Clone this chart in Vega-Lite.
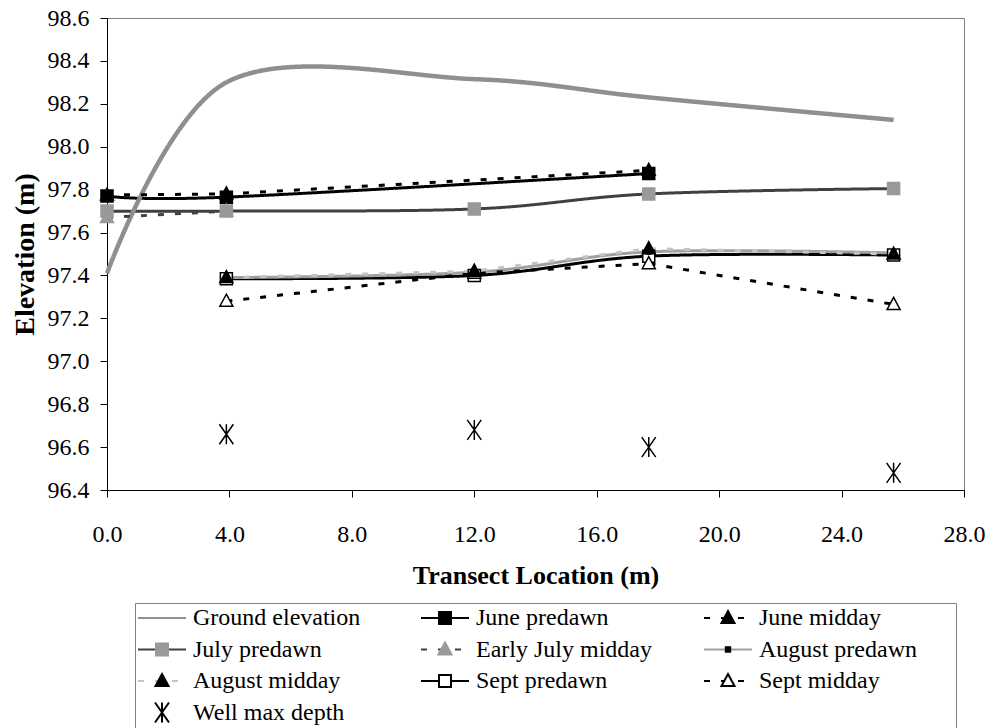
{
  "$schema": "https://vega.github.io/schema/vega-lite/v6.json",
  "width": 857,
  "height": 472,
  "autosize": {"type": "none"},
  "padding": {"left": 107, "top": 18, "right": 27, "bottom": 238},
  "background": "white",
  "config": {
    "view": {"stroke": "#808080", "strokeWidth": 1},
    "font": "Liberation Serif",
    "axis": {
      "labelFont": "Liberation Serif", "labelFontSize": 24, "labelColor": "black",
      "titleFont": "Liberation Serif", "titleFontSize": 26, "titleFontWeight": "bold", "titleColor": "black",
      "domainColor": "black", "domainWidth": 1, "tickColor": "black", "tickSize": 7, "tickWidth": 1,
      "grid": false, "labelFlush": false, "labelOverlap": false
    },
    "legend": {
      "orient": "none", "legendX": 28, "legendY": 585,
      "direction": "horizontal", "columns": 3, "gridAlign": "all",
      "columnPadding": 30, "rowPadding": -0.5, "padding": 3,
      "labelFont": "Liberation Serif", "labelFontSize": 24, "labelColor": "black",
      "labelOffset": 19, "symbolOffset": 12, "symbolSize": 400, "labelLimit": 400,
      "symbolStrokeWidth": 2
    }
  },
  "data": {
    "values": [
      {"series": "Ground elevation", "x": 0, "y": 97.41},
      {"series": "Ground elevation", "x": 3.9, "y": 98.3},
      {"series": "Ground elevation", "x": 12, "y": 98.315},
      {"series": "Ground elevation", "x": 17.7, "y": 98.23},
      {"series": "Ground elevation", "x": 25.7, "y": 98.125},
      {"series": "June predawn", "x": 0, "y": 97.77},
      {"series": "June predawn", "x": 3.9, "y": 97.765},
      {"series": "June predawn", "x": 17.7, "y": 97.875},
      {"series": "June midday", "x": 0, "y": 97.775},
      {"series": "June midday", "x": 3.9, "y": 97.78},
      {"series": "June midday", "x": 17.7, "y": 97.89},
      {"series": "July predawn", "x": 0, "y": 97.7},
      {"series": "July predawn", "x": 3.9, "y": 97.7},
      {"series": "July predawn", "x": 12, "y": 97.71},
      {"series": "July predawn", "x": 17.7, "y": 97.78},
      {"series": "July predawn", "x": 25.7, "y": 97.805},
      {"series": "Early July midday", "x": 0, "y": 97.67},
      {"series": "Early July midday", "x": 3.9, "y": 97.7},
      {"series": "Sept predawn", "x": 3.9, "y": 97.385},
      {"series": "Sept predawn", "x": 12, "y": 97.4},
      {"series": "Sept predawn", "x": 17.7, "y": 97.49},
      {"series": "Sept predawn", "x": 25.7, "y": 97.495},
      {"series": "Sept midday", "x": 3.9, "y": 97.28},
      {"series": "Sept midday", "x": 12, "y": 97.41},
      {"series": "Sept midday", "x": 17.7, "y": 97.455},
      {"series": "Sept midday", "x": 25.7, "y": 97.265},
      {"series": "August predawn", "x": 3.9, "y": 97.39},
      {"series": "August predawn", "x": 12, "y": 97.415},
      {"series": "August predawn", "x": 17.7, "y": 97.51},
      {"series": "August predawn", "x": 25.7, "y": 97.505},
      {"series": "August midday", "x": 3.9, "y": 97.39},
      {"series": "August midday", "x": 12, "y": 97.42},
      {"series": "August midday", "x": 17.7, "y": 97.525},
      {"series": "August midday", "x": 25.7, "y": 97.5},
      {"series": "Well max depth", "x": 3.9, "y": 96.66},
      {"series": "Well max depth", "x": 12, "y": 96.68},
      {"series": "Well max depth", "x": 17.7, "y": 96.6},
      {"series": "Well max depth", "x": 25.7, "y": 96.48}
    ]
  },
  "encoding": {
    "x": {
      "field": "x", "type": "quantitative",
      "scale": {"domain": [0, 28], "nice": false, "zero": false},
      "axis": {"title": "Transect Location (m)", "values": [0, 4, 8, 12, 16, 20, 24, 28], "format": ".1f", "labelPadding": 25, "titlePadding": 16}
    },
    "y": {
      "field": "y", "type": "quantitative",
      "scale": {"domain": [96.4, 98.6], "nice": false, "zero": false},
      "axis": {"title": "Elevation (m)", "values": [96.4, 96.6, 96.8, 97.0, 97.2, 97.4, 97.6, 97.8, 98.0, 98.2, 98.4, 98.6], "format": ".1f", "labelPadding": 11, "titlePadding": 8, "titleFontSize": 28}
    }
  },
  "layer": [
    {
      "encoding": {
        "stroke": {
          "field": "series", "type": "nominal",
          "scale": {
            "domain": ["Ground elevation", "June predawn", "June midday", "July predawn", "Early July midday", "August predawn", "August midday", "Sept predawn", "Sept midday", "Well max depth"],
            "range": ["#8f8f8f", "#000000", "#000000", "#404040", "#404040", "#a0a0a0", "#c4c4c4", "#000000", "#000000", "transparent"]
          },
          "legend": {"title": null, "symbolType": "M-2.4,-1.2M22.1,1.2M-2.4,0H2.4", "symbolStrokeWidth": 2, "strokeColor": "#808080", "labelExpr": "''"}
        },
        "strokeDash": {
          "field": "series", "type": "nominal",
          "scale": {
            "domain": ["Ground elevation", "June predawn", "June midday", "July predawn", "Early July midday", "August predawn", "August midday", "Sept predawn", "Sept midday", "Well max depth"],
            "range": [[1, 0], [1, 0], [6, 11], [1, 0], [6, 11], [1, 0], [6, 11], [1, 0], [6, 11], [1, 0]]
          },
          "legend": {"title": null, "symbolType": "M-2.4,-1.2M22.1,1.2M-2.4,0H2.4", "symbolStrokeWidth": 2, "strokeColor": "#808080", "labelExpr": "''"}
        }
      },
      "layer": [
        {
          "transform": [{"filter": {"field": "series", "oneOf": ["June predawn", "July predawn", "August predawn", "Sept predawn"]}}],
          "mark": {"type": "line", "interpolate": "cardinal"},
          "encoding": {"strokeWidth": {"value": 3}}
        },
        {
          "transform": [{"filter": {"field": "series", "equal": "Ground elevation"}}],
          "mark": {"type": "line", "interpolate": "cardinal"},
          "encoding": {"strokeWidth": {"value": 4.5}}
        },
        {
          "transform": [{"filter": {"field": "series", "oneOf": ["June midday", "Early July midday", "August midday", "Sept midday"]}}],
          "mark": {"type": "line"},
          "encoding": {"strokeWidth": {"value": 3}}
        }
      ]
    },
    {
      "transform": [{"filter": {"not": {"field": "series", "equal": "Ground elevation"}}}],
      "mark": {"type": "point", "filled": true, "opacity": 1, "size": 400},
      "encoding": {
        "strokeWidth": {"value": 1.5},
        "shape": {
          "field": "series", "type": "nominal",
          "scale": {
            "domain": ["Ground elevation", "June predawn", "June midday", "July predawn", "Early July midday", "August predawn", "August midday", "Sept predawn", "Sept midday", "Well max depth"],
            "range": [
              "M-2.4,-1.2M22.1,1.2",
              "M-2.4,-1.2M22.1,1.2M-0.6,-0.6H0.6V0.6H-0.6Z",
              "M-2.4,-1.2M22.1,1.2M0,-0.7L0.65,0.5H-0.65Z",
              "M-2.4,-1.2M22.1,1.2M-0.6,-0.6H0.6V0.6H-0.6Z",
              "M-2.4,-1.2M22.1,1.2M0,-0.7L0.65,0.5H-0.65Z",
              "M-2.4,-1.2M22.1,1.2M-0.22,-0.22H0.22V0.22H-0.22Z",
              "M-2.4,-1.2M22.1,1.2M0,-0.7L0.65,0.5H-0.65Z",
              "M-2.4,-1.2M22.1,1.2M-0.6,-0.6H0.6V0.6H-0.6Z",
              "M-2.4,-1.2M22.1,1.2M0,-0.7L0.65,0.5H-0.65Z",
              "M-2.4,-1.2M22.1,1.2M-0.7,-1L0.7,1M0.7,-1L-0.7,1M0,-1V1"
            ]
          },
          "legend": {"title": null, "strokeColor": null, "symbolStrokeWidth": 2}
        },
        "fill": {
          "field": "series", "type": "nominal",
          "scale": {
            "domain": ["Ground elevation", "June predawn", "June midday", "July predawn", "Early July midday", "August predawn", "August midday", "Sept predawn", "Sept midday", "Well max depth"],
            "range": ["transparent", "#000000", "#000000", "#999999", "#999999", "#000000", "#000000", "#ffffff", "#ffffff", "transparent"]
          },
          "legend": {"title": null, "strokeColor": null, "symbolStrokeWidth": 2}
        },
        "stroke": {
          "field": "series", "type": "nominal",
          "scale": {
            "domain": ["Ground elevation", "June predawn", "June midday", "July predawn", "Early July midday", "August predawn", "August midday", "Sept predawn", "Sept midday", "Well max depth"],
            "range": ["transparent", "#000000", "#000000", "#999999", "#999999", "#000000", "#000000", "#000000", "#000000", "#000000"]
          },
          "legend": {"title": null, "strokeColor": null, "symbolStrokeWidth": 2}
        }
      }
    }
  ],
  "resolve": {"scale": {"stroke": "independent", "strokeDash": "independent", "fill": "independent", "shape": "independent"}}
}
